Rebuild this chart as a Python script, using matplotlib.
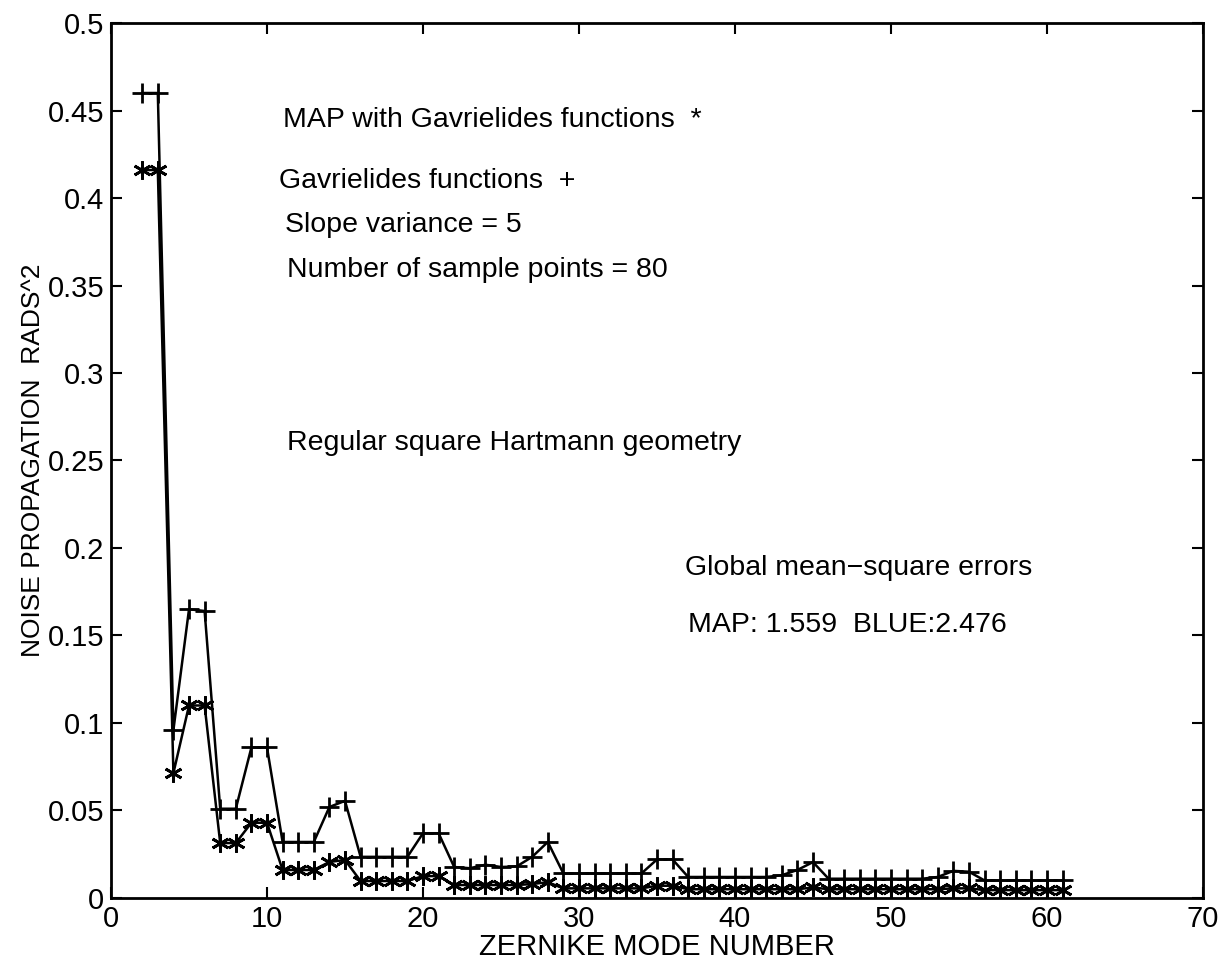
import matplotlib.pyplot as plt

plt.rcParams['font.family'] = ['Liberation Sans', 'DejaVu Sans']

modes = list(range(2, 62))

# BLUE / Gavrielides functions (+)
blue = [0.46, 0.46, 0.096, 0.165, 0.164, 0.051, 0.051, 0.086, 0.086, 0.032,
        0.032, 0.032, 0.052, 0.0555, 0.0235, 0.0235, 0.0235, 0.0235, 0.037, 0.037,
        0.0177, 0.017, 0.019, 0.0177, 0.018, 0.0235, 0.032, 0.014, 0.014, 0.014,
        0.014, 0.014, 0.014, 0.022, 0.022, 0.012, 0.012, 0.012, 0.012, 0.012,
        0.012, 0.013, 0.016, 0.0205, 0.011, 0.011, 0.011, 0.011, 0.011, 0.011,
        0.011, 0.012, 0.0155, 0.015, 0.010, 0.010, 0.010, 0.010, 0.010, 0.010]

# MAP with Gavrielides functions (*)
map_est = [0.416, 0.416, 0.0714, 0.110, 0.110, 0.0314, 0.0314, 0.043, 0.043, 0.016,
           0.016, 0.016, 0.0206, 0.0217, 0.0097, 0.0097, 0.0097, 0.0097, 0.0125, 0.0125,
           0.0074, 0.0074, 0.0074, 0.0074, 0.0074, 0.008, 0.009, 0.0055, 0.0055, 0.0055,
           0.0055, 0.0055, 0.0055, 0.007, 0.007, 0.005, 0.005, 0.005, 0.005, 0.005,
           0.005, 0.005, 0.005, 0.006, 0.005, 0.005, 0.005, 0.005, 0.005, 0.005,
           0.005, 0.005, 0.0055, 0.0055, 0.0045, 0.0045, 0.0045, 0.0045, 0.0045, 0.0045]

fig = plt.figure(figsize=(12.24, 9.71), dpi=100)
ax = fig.add_axes([0.0907, 0.0752, 0.8921, 0.9011])

ax.plot(modes, blue, color="black", lw=1.8, marker="+", markersize=14, markeredgewidth=2)
ax.plot(modes, map_est, color="black", lw=1.8, marker=(6, 2, 0), markersize=13, markeredgewidth=2)

ax.set_xlim(0, 70)
ax.set_ylim(0, 0.5)
ax.set_xticks(range(0, 71, 10))
ax.set_yticks([0, 0.05, 0.1, 0.15, 0.2, 0.25, 0.3, 0.35, 0.4, 0.45, 0.5])
ax.set_yticklabels(["0", "0.05", "0.1", "0.15", "0.2", "0.25", "0.3", "0.35", "0.4", "0.45", "0.5"])
ax.tick_params(direction="in", length=8, width=1.5, top=True, right=True, labelsize=21, pad=5)
for s in ax.spines.values():
    s.set_linewidth(2)

ax.set_xlabel("ZERNIKE MODE NUMBER", fontsize=21, labelpad=0)
ax.set_ylabel("NOISE PROPAGATION  RADS^2", fontsize=19, labelpad=2)

fs = 20.5
ax.text(11.0, 0.4446, "MAP with Gavrielides functions  *", fontsize=fs, va="center")
ax.text(10.8, 0.410, "Gavrielides functions  +", fontsize=fs, va="center")
ax.text(11.15, 0.3846, "Slope variance = 5", fontsize=fs, va="center")
ax.text(11.3, 0.359, "Number of sample points = 80", fontsize=fs, va="center")
ax.text(11.3, 0.26, "Regular square Hartmann geometry", fontsize=fs, va="center")
ax.text(36.8, 0.1886, "Global mean\u2212square errors", fontsize=fs, va="center")
ax.text(37.0, 0.156, "MAP: 1.559  BLUE:2.476", fontsize=fs, va="center")

plt.savefig("out.png", dpi=100)
plt.close()
